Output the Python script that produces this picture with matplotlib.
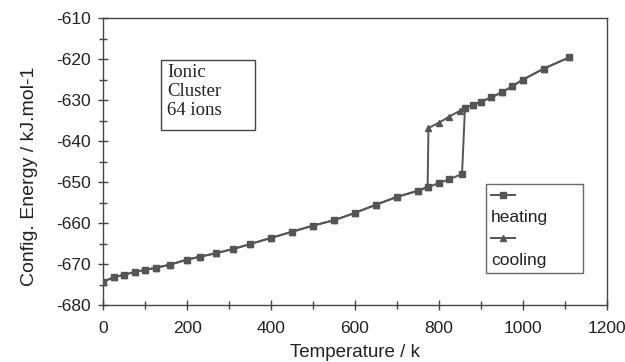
import matplotlib
matplotlib.use('Agg')
import matplotlib.pyplot as plt
from matplotlib.lines import Line2D
from matplotlib.patches import Rectangle
from matplotlib.ticker import MultipleLocator

heat_temp = [0, 25, 50, 75, 100, 125, 160, 200, 230, 270, 310, 350, 400,
             450, 500, 550, 600, 650, 700, 750, 775, 800, 825, 855,
             862, 880, 900, 925, 950, 975, 1000, 1050, 1110]
heat_energy = [-674.3, -673.2, -672.6, -671.9, -671.4, -670.9, -670.1,
               -668.9, -668.2, -667.3, -666.3, -665.1, -663.6, -662.1,
               -660.6, -659.3, -657.5, -655.5, -653.6, -652.1, -651.2,
               -650.2, -649.3, -648.0,
               -631.8, -631.2, -630.4, -629.3, -628.1, -626.6, -625.0,
               -622.3, -619.6]

cool_temp = [1110, 1050, 1000, 975, 950, 925, 900, 880, 862, 850, 825, 800,
             775, 773, 750, 700, 650, 600, 550, 500, 450, 400, 350, 310,
             270, 230, 200, 160, 125, 100, 75, 50, 25, 0]
cool_energy = [-619.6, -622.3, -625.0, -626.6, -628.1, -629.3, -630.4,
               -631.2, -631.8, -632.6, -634.0, -635.5, -636.8,
               -651.1, -652.1, -653.6, -655.5, -657.5, -659.3, -660.6,
               -662.1, -663.6, -665.1, -666.3, -667.3, -668.2, -668.9,
               -670.1, -670.9, -671.4, -671.9, -672.6, -673.2, -674.3]

LINE_COLOR = '#555555'
AXIS_COLOR = '#444444'
TEXT_COLOR = '#222222'

plt.rcParams['font.family'] = ['Liberation Sans', 'DejaVu Sans']
plt.rcParams['axes.unicode_minus'] = False

fig = plt.figure(figsize=(6.25, 3.62), dpi=100)
ax = fig.add_axes([0.165, 0.157, 0.806, 0.793])

ax.plot(heat_temp, heat_energy, color=LINE_COLOR, lw=1.4, marker='s',
        ms=5, mfc=LINE_COLOR, mec=LINE_COLOR, zorder=3)
ax.plot(cool_temp, cool_energy, color=LINE_COLOR, lw=1.4, marker='^',
        ms=5, mfc=LINE_COLOR, mec=LINE_COLOR, zorder=3)

ax.set_xlim(0, 1200)
ax.set_ylim(-680, -610)
ax.xaxis.set_major_locator(MultipleLocator(200))
ax.xaxis.set_minor_locator(MultipleLocator(100))
ax.yaxis.set_major_locator(MultipleLocator(10))
ax.yaxis.set_minor_locator(MultipleLocator(5))
ax.tick_params(which='major', direction='inout', length=7, width=1,
               color=AXIS_COLOR, labelsize=12.5, labelcolor=TEXT_COLOR)
ax.tick_params(which='minor', direction='inout', length=6, width=1,
               color=AXIS_COLOR)
ax.tick_params(axis='x', pad=8)
ax.tick_params(axis='y', pad=5)
for sp in ax.spines.values():
    sp.set_color(AXIS_COLOR)
    sp.set_linewidth(1.0)

ax.set_xlabel('Temperature / k', fontsize=13.5, color=TEXT_COLOR)
ax.set_ylabel('Config. Energy / kJ.mol-1', fontsize=14, color=TEXT_COLOR)
ax.xaxis.set_label_coords(0.5, -0.135)
ax.yaxis.set_label_coords(-0.13, 0.45)

# annotation box
ax.add_patch(Rectangle((0.115, 0.61), 0.187, 0.244, transform=ax.transAxes,
                       fill=False, ec=AXIS_COLOR, lw=1.0, zorder=4))
ax.text(0.127, 0.84, 'Ionic\nCluster\n64 ions', transform=ax.transAxes,
        ha='left', va='top', fontsize=13.5, family='Liberation Serif',
        linespacing=1.15, color=TEXT_COLOR, zorder=5)

# legend: handle on its own row, label below it
blank = Line2D([], [], linestyle='none', marker='none')
h_handle = Line2D([], [], color=LINE_COLOR, lw=1.4, marker='s', ms=5,
                  mfc=LINE_COLOR, mec=LINE_COLOR)
c_handle = Line2D([], [], color=LINE_COLOR, lw=1.4, marker='^', ms=5,
                  mfc=LINE_COLOR, mec=LINE_COLOR)
leg = ax.legend([h_handle, blank, c_handle, blank],
                ['', 'heating', '', 'cooling'],
                loc='lower left', bbox_to_anchor=(0.760, 0.1115, 0.1925, 0.31),
                mode='expand', fontsize=12.5, handlelength=1.4,
                handletextpad=-1.4, labelspacing=0.35, borderpad=0.3,
                frameon=True, fancybox=False, edgecolor=AXIS_COLOR,
                borderaxespad=0, labelcolor=TEXT_COLOR)
leg.get_frame().set_linewidth(1.0)

fig.savefig('out.png', dpi=100)
